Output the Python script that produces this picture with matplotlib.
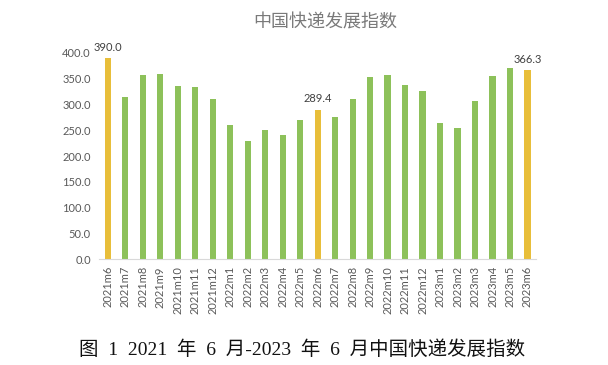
import matplotlib
matplotlib.use("Agg")
import matplotlib.pyplot as plt

plt.rcParams['font.family'] = ['Lato', 'Noto Sans CJK SC', 'DejaVu Sans']

categories = ["2021m6", "2021m7", "2021m8", "2021m9", "2021m10", "2021m11", "2021m12",
              "2022m1", "2022m2", "2022m3", "2022m4", "2022m5", "2022m6", "2022m7",
              "2022m8", "2022m9", "2022m10", "2022m11", "2022m12", "2023m1", "2023m2",
              "2023m3", "2023m4", "2023m5", "2023m6"]
values = [390.0, 315, 357, 360, 336, 334, 311, 260, 229, 250, 241, 269, 289.4, 275,
          311, 353, 358, 338, 327, 265, 254, 307, 356, 370, 366.3]
highlight = ["2021m6", "2022m6", "2023m6"]
yticks = [0, 50, 100, 150, 200, 250, 300, 350, 400]
title = "中国快递发展指数"
caption = "图  1  2021  年  6  月-2023  年  6  月中国快递发展指数"

green = "#8DC15A"
yellow = "#E8BE3A"

fig = plt.figure(figsize=(6.08, 3.65), dpi=100)
ax = fig.add_axes([0.163, 0.290, 0.719, 0.565])
x = list(range(len(categories)))
colors = [yellow if c in highlight else green for c in categories]
ax.bar(x, values, width=0.36, color=colors, zorder=2)
ax.set_xlim(-0.5, len(categories) - 0.5)
ax.set_ylim(0, 400)
ax.set_yticks(yticks)
ax.set_yticklabels([f"{v:.1f}" for v in yticks])
ax.set_xticks(x)
ax.set_xticklabels(categories, rotation=90)
ax.tick_params(axis='both', length=0, labelsize=8, colors="#595959")
ax.tick_params(axis='y', pad=6)
ax.tick_params(axis='x', pad=5)
for s in ['top', 'right', 'left']:
    ax.spines[s].set_visible(False)
ax.spines['bottom'].set_color("#D9D9D9")
ax.spines['bottom'].set_linewidth(0.8)

for i, c in enumerate(categories):
    if c in highlight:
        ax.annotate(f"{values[i]:.1f}", (i, values[i]), xytext=(0, 4),
                    textcoords="offset points", ha='center', va='bottom',
                    fontsize=8, color="#404040", annotation_clip=False)

fig.text(325 / 608, 1 - 23 / 365, title, ha='center', va='center', fontsize=13,
         color="#7A7A7A", family=['Noto Sans CJK SC', 'DejaVu Sans'])
fig.text(302 / 608, 1 - 350 / 365, caption, ha='center', va='center', fontsize=14,
         color="#111111", family=['Liberation Serif', 'Noto Sans CJK SC', 'DejaVu Sans'])

fig.savefig("out.png", dpi=100, facecolor="white")
